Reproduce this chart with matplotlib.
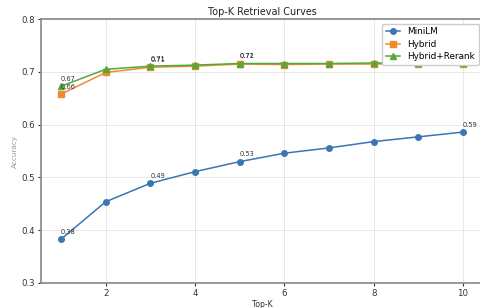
import matplotlib
matplotlib.use("Agg")
import matplotlib.pyplot as plt

# Top-K values
top_k = [1, 2, 3, 4, 5, 6, 7, 8, 9, 10]
minilm = [0.383, 0.454, 0.489, 0.511, 0.530, 0.546, 0.556, 0.568, 0.577, 0.586]
hybrid = [0.658, 0.699, 0.709, 0.711, 0.715, 0.714, 0.715, 0.715, 0.716, 0.716]
rerank = [0.673, 0.705, 0.711, 0.713, 0.716, 0.716, 0.716, 0.717, 0.717, 0.717]
minilm_annot = [0, 2, 4, 9]
hybrid_annot = [0, 2, 4]

fig = plt.figure(figsize=(4.81, 3.08), dpi=100)
ax = fig.add_axes([0.0852, 0.0812, 0.919, 0.8565])

series = [
    ("MiniLM", minilm, "o", "#3b75b4", minilm_annot),
    ("Hybrid", hybrid, "s", "#f08a2c", hybrid_annot),
    ("Hybrid+Rerank", rerank, "^", "#55a63b", hybrid_annot),
]
for name, vals, mk, col, idx in series:
    ax.plot(top_k, vals, marker=mk, color=col, label=name, linewidth=1.1, markersize=4)
    for i in idx:
        ax.annotate(f"{vals[i]:.2f}", (top_k[i], vals[i]), xytext=(0, 4),
                    textcoords="offset points", ha="left", fontsize=4.8, color="#333333")

ax.set_ylim(0.3, 0.8)
ax.set_yticks([0.3, 0.4, 0.5, 0.6, 0.7, 0.8])
ax.set_xticks([2, 4, 6, 8, 10])
ax.tick_params(labelsize=6.2, colors="#333333", length=2.5, width=0.8, pad=2)
ax.grid(True, color="#e4e4e4", linewidth=0.6)

for side in ["left", "bottom", "top", "right"]:
    ax.spines[side].set_color("#888888")
    ax.spines[side].set_linewidth(1.2)

ax.set_title("Top-K Retrieval Curves", fontsize=6.9, pad=3, color="#222222")
ax.set_xlabel("Top-K", fontsize=5.6, labelpad=1, color="#333333")
ax.set_ylabel("Accuracy", fontsize=5.2, labelpad=2, color="#999999")

ax.legend(loc="upper right", fontsize=6.4, framealpha=1, edgecolor="#cccccc",
          borderpad=0.4, labelspacing=0.4, handlelength=1.6)

fig.savefig("out.png", dpi=100)
